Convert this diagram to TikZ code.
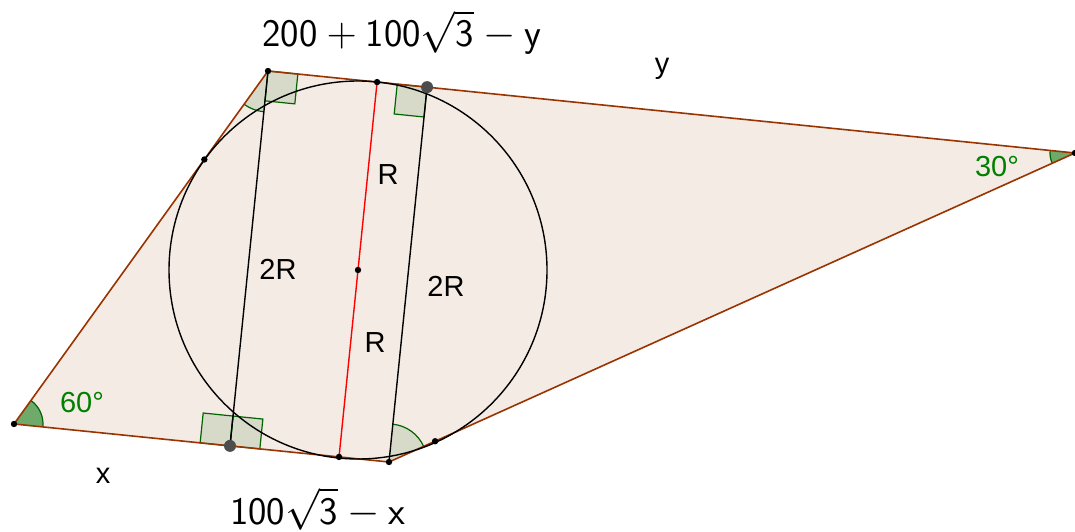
\documentclass[tikz,border=0pt]{standalone}
\usepackage{fontspec}
\setmainfont{Liberation Sans}
\usepackage{tikz}
\usetikzlibrary{calc, angles}
\definecolor{gg-brown}{RGB}{153,51,0}
\definecolor{gg-green}{RGB}{0,100,0}
\definecolor{gg-label}{RGB}{0,128,0}
\definecolor{gg-sector}{RGB}{110,170,105}
\definecolor{gg-dot}{RGB}{77,77,77}

\begin{document}
\begin{tikzpicture}[
    x=0.5pt, y=0.5pt,
    side/.style={draw=gg-brown, line width=0.8pt},
    chord/.style={draw=black, line width=0.7pt},
    redline/.style={draw=red, line width=0.7pt},
    rtmark/.style={draw=gg-green, fill=gg-green, fill opacity=0.12, line width=0.6pt},
    wedge/.style={draw=gg-green, fill=gg-green, fill opacity=0.12, line width=0.6pt},
    dkwedge/.style={draw=gg-green, fill=gg-sector, line width=0.6pt},
    dot/.style={circle, fill=black, inner sep=0pt, minimum size=3.2pt},
    bigdot/.style={circle, fill=gg-dot, inner sep=0pt, minimum size=6pt},
    lbl/.style={font=\fontsize{14.5}{17}\selectfont, anchor=base, inner sep=0pt},
    glbl/.style={lbl, text=gg-label},
    mlbl/.style={font=\fontsize{19.5}{22}\selectfont, anchor=base, inner sep=0pt}
]
    \useasboundingbox (0,0) rectangle (1075,531);

    % Vertices and circle
    \coordinate (A) at (14,107);
    \coordinate (B) at (268,460);
    \coordinate (C) at (1075,378);
    \coordinate (D) at (389,69);
    \coordinate (O) at (358,261);

    % Tangency points and feet
    \coordinate (TB) at ($(B)!(O)!(C)$);
    \coordinate (TD) at ($(A)!(O)!(D)$);
    \coordinate (TA) at ($(A)!(O)!(B)$);
    \coordinate (TC) at ($(D)!(O)!(C)$);
    \coordinate (F) at ($(A)!(B)!(D)$);
    \coordinate (P) at ($(B)!(D)!(C)$);

    % Quadrilateral fill
    \fill[gg-brown!10] (A) -- (B) -- (C) -- (D) -- cycle;

    % Angle marks
    \pic[dkwedge, angle radius=14.5pt] {angle = D--A--B};
    \pic[dkwedge, angle radius=12.5pt] {angle = B--C--D};
    \pic[wedge, angle radius=20.5pt] {angle = A--B--F};
    \pic[wedge, angle radius=19pt] {angle = C--D--P};

    % Right angles
    \coordinate (B1) at ($(B)!15pt!(C)$);
    \coordinate (B2) at ($(B)!15pt!(F)$);
    \draw[rtmark] (B) -- (B1) -- ($(B1)+(B2)-(B)$) -- (B2) -- cycle;
    \coordinate (F1) at ($(F)!15pt!(A)$);
    \coordinate (F2) at ($(F)!15pt!(B)$);
    \coordinate (F3) at ($(F)!15pt!(D)$);
    \draw[rtmark] (F) -- (F1) -- ($(F1)+(F2)-(F)$) -- (F2) -- cycle;
    \draw[rtmark] (F) -- (F3) -- ($(F3)+(F2)-(F)$) -- (F2) -- cycle;
    \coordinate (P1) at ($(P)!15pt!(B)$);
    \coordinate (P2) at ($(P)!15pt!(D)$);
    \draw[rtmark] (P) -- (P1) -- ($(P1)+(P2)-(P)$) -- (P2) -- cycle;

    % Sides
    \draw[side] (A) -- (B) -- (C) -- (D) -- cycle;

    % Circle and segments
    \draw[chord] (O) circle (189);
    \draw[chord] (B) -- (F);
    \draw[chord] (P) -- (D);
    \draw[redline] (TB) -- (TD);

    % Points
    \foreach \p in {A, B, C, D, O, TA, TB, TC, TD}
        \node[dot] at (\p) {};
    \node[bigdot] at (F) {};
    \node[bigdot] at (P) {};

    % Labels
    \node[mlbl] (ltop) at (402,484) {$\mathsf{200+100\sqrt{3}-y}$};
    \node[mlbl] (lbot) at (318,7) {$\mathsf{100\sqrt{3}-x}$};
    \node[lbl] (ly) at (662,457) {y};
    \node[lbl] (lx) at (103,48) {x};
    \node[glbl] (la) at (82,119) {60°};
    \node[glbl] (lc) at (997,354) {30°};
    \node[lbl] (r1) at (388,347) {R};
    \node[lbl] (r2) at (375,179) {R};
    \node[lbl] (d1) at (278,252) {2R};
    \node[lbl] (d2) at (446,235) {2R};
\end{tikzpicture}
\end{document}
